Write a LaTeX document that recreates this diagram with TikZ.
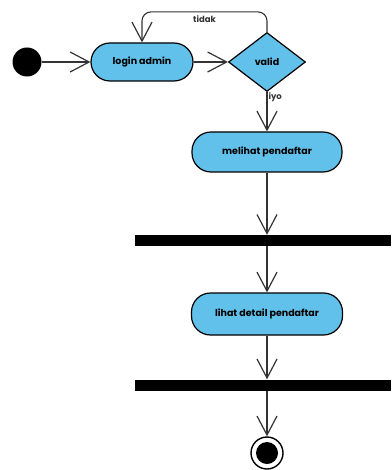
\documentclass[tikz,border=0pt]{standalone}
\usepackage{fontspec}
\setmainfont{Poppins}
\usepackage{xcolor}
\usepackage{tikz}
\usetikzlibrary{shapes,arrows.meta,positioning}
\definecolor{ActBlue}{HTML}{62C1EA}

\begin{document}
\begin{tikzpicture}[
  x=1pt, y=1pt,
  action/.style={rectangle, rounded corners=19pt, draw=black, line width=1.2pt, fill=ActBlue, minimum width=#1, minimum height=40pt, align=center, font=\fontsize{9.5}{11}\selectfont\bfseries},
  decision/.style={diamond, draw=black, line width=1.2pt, fill=ActBlue, minimum width=77pt, minimum height=59pt, inner sep=0pt, font=\fontsize{9.5}{11}\selectfont\bfseries},
  bar/.style={rectangle, fill=black, minimum width=256pt, minimum height=11pt, inner sep=0pt},
  arrow/.style={-{Straight Barb[length=19pt, width=20pt, line width=1.2pt]}, line width=1.1pt, black!80},
  lbl/.style={font=\fontsize{8.5}{10}\selectfont\bfseries, inner sep=1pt}
]
\useasboundingbox (0,0) rectangle (391,-470);

% Start and login
\node[circle, fill=black, minimum size=29pt, inner sep=0pt] (start) at (27,-62) {};
\node[action=102pt, minimum height=38pt] (login) at (142,-62) {login admin};
\node[decision] (valid) at (267,-62) {valid};

% Main flow
\node[action=150pt] (melihat) at (267,-152) {melihat pendaftar};
\node[bar] (bar1) at (263,-240.5) {};
\node[action=151pt, minimum height=42pt] (detail) at (267,-314) {lihat detail pendaftar};
\node[bar] (bar2) at (263,-385) {};

% End
\node[circle, draw=black, line width=1.4pt, fill=white, minimum size=32pt, inner sep=0pt] (end) at (267,-453) {};
\node[circle, fill=black, minimum size=22pt, inner sep=0pt] (endin) at (end) {};

% Arrows
\draw[arrow] (start) -- (login);
\draw[arrow] (login) -- (valid);
\draw[arrow, rounded corners=9pt] (valid.north) -- ++(0,20) -| node[lbl, pos=0.25, below=2pt] {tidak} (login.north);
\draw[arrow] (valid.south) -- node[lbl, pos=0.12, right] {iyo} (melihat.north);
\draw[arrow] (melihat.south) -- (melihat |- bar1.north);
\draw[arrow] (melihat |- bar1.south) -- (detail.north);
\draw[arrow] (detail.south) -- (detail |- bar2.north);
\draw[arrow] (detail |- bar2.south) -- (end.north);

\end{tikzpicture}
\end{document}
